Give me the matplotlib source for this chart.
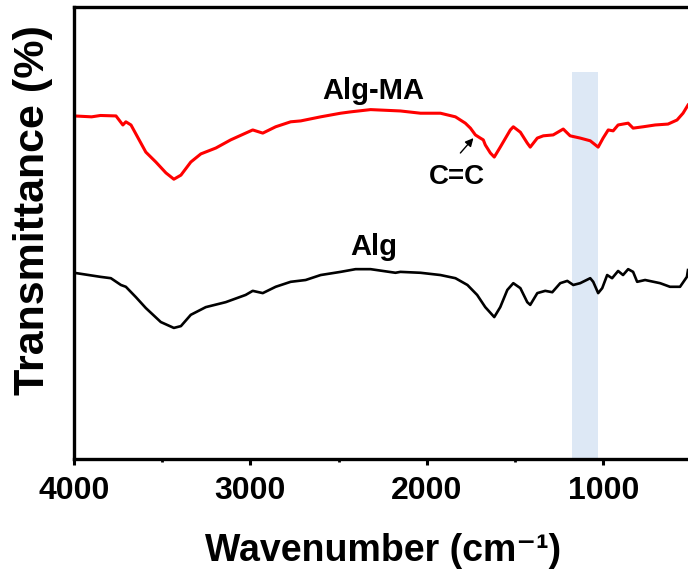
import matplotlib
matplotlib.use("Agg")
import matplotlib.pyplot as plt

plt.rcParams['font.family'] = ['Liberation Sans', 'DejaVu Sans']

# Alg-MA spectrum (wavenumber, transmittance in arbitrary offset units)
alg_ma_wn = [4000, 3900, 3850, 3762, 3723, 3706, 3677, 3621, 3593, 3536, 3479, 3434,
             3394, 3338, 3281, 3196, 3112, 3027, 2987, 2930, 2857, 2772, 2715, 2602,
             2489, 2432, 2319, 2150, 2036, 1923, 1838, 1782, 1753, 1725, 1697, 1680,
             1669, 1640, 1618, 1584, 1527, 1510, 1470, 1431, 1414, 1374, 1340, 1284,
             1227, 1188, 1131, 1074, 1029, 1001, 972, 944, 916, 888, 859, 831, 774,
             706, 633, 582, 548, 520]
alg_ma_t = [75.9, 75.7, 76.0, 75.9, 73.9, 74.6, 73.9, 69.9, 67.9, 65.7, 63.3, 61.9,
            62.8, 65.7, 67.5, 68.8, 70.6, 72.1, 72.8, 72.1, 73.5, 74.6, 74.8, 75.7,
            76.5, 76.8, 77.3, 77.0, 76.5, 76.5, 75.7, 74.3, 73.2, 71.7, 71.0, 70.6,
            69.5, 67.7, 66.8, 69.0, 72.8, 73.5, 72.3, 69.9, 69.0, 71.0, 71.5, 71.7,
            73.0, 71.5, 71.0, 70.4, 69.0, 71.0, 72.8, 72.6, 73.9, 74.1, 74.3, 73.2,
            73.5, 73.9, 74.1, 75.0, 76.5, 78.3]

# Alg spectrum
alg_wn = [4000, 3850, 3791, 3734, 3706, 3649, 3593, 3508, 3434, 3394, 3338, 3253,
          3140, 3027, 2987, 2930, 2857, 2772, 2687, 2602, 2489, 2404, 2319, 2178,
          2150, 2036, 1923, 1838, 1770, 1715, 1669, 1618, 1584, 1544, 1510, 1470,
          1431, 1414, 1374, 1329, 1289, 1244, 1204, 1170, 1131, 1074, 1057, 1029,
          1006, 978, 950, 916, 888, 859, 831, 808, 763, 678, 622, 565, 526, 520]
alg_t = [41.2, 40.3, 40.0, 38.5, 38.1, 35.8, 33.4, 30.3, 29.0, 29.4, 31.9, 33.6,
         34.7, 36.3, 37.2, 36.7, 38.1, 39.2, 39.6, 40.7, 41.4, 42.0, 42.0, 41.2,
         41.4, 41.2, 40.7, 40.0, 38.5, 36.3, 33.6, 31.4, 33.6, 37.4, 38.9, 37.8,
         34.7, 34.1, 36.7, 37.2, 36.9, 38.9, 39.4, 38.5, 38.9, 40.0, 39.2, 36.7,
         37.8, 40.7, 40.0, 41.6, 40.7, 42.0, 41.4, 39.2, 39.6, 38.9, 38.1, 38.1,
         40.3, 41.8]

band_range = (1030, 1175)
band_top = 85.6
xticks = [4000, 3000, 2000, 1000]
minor_xticks = [3500, 2500, 1500]

fig = plt.figure(figsize=(6.88, 5.79), dpi=100)
ax = fig.add_axes([74/688, 120/579, (691.5-74)/688, 452/579])
ax.set_xlim(4000, 500)
ax.set_ylim(0, 100)

ax.axvspan(band_range[0], band_range[1], ymin=0, ymax=band_top/100,
           color='#dde8f5', zorder=0, lw=0)
ax.plot(alg_ma_wn, alg_ma_t, color='#ff0000', lw=2.2, zorder=2,
        solid_joinstyle='round')
ax.plot(alg_wn, alg_t, color='black', lw=1.9, zorder=2, solid_joinstyle='round')

ax.text(2302, 78.3, 'Alg-MA', fontsize=21, fontweight='bold', ha='center', va='bottom')
ax.text(2302, 43.8, 'Alg', fontsize=21, fontweight='bold', ha='center', va='bottom')
ax.text(1827, 65.3, 'C=C', fontsize=20, fontweight='bold', ha='center', va='top')
ax.annotate('', xy=(1736, 71.0), xytext=(1810, 67.7),
            arrowprops=dict(arrowstyle='-|>', color='black', lw=1.0,
                            mutation_scale=12, shrinkA=0, shrinkB=0))

ax.set_xticks(xticks)
ax.set_xticks(minor_xticks, minor=True)
ax.set_xticklabels([str(v) for v in xticks])
ax.set_yticks([])
ax.tick_params(axis='x', which='major', direction='out', length=4.5, width=2.2,
               labelsize=23, pad=8)
ax.tick_params(axis='x', which='minor', direction='out', length=2.5, width=2.0)
for lab in ax.get_xticklabels():
    lab.set_fontweight('bold')
for s in ['left', 'bottom', 'top', 'right']:
    ax.spines[s].set_linewidth(2.4)

ax.set_ylabel('Transmittance (%)', fontsize=31, fontweight='bold')
ax.yaxis.set_label_coords(-0.034, 0.55)
ax.set_xlabel('Wavenumber (cm\u207b\u00b9)', fontsize=27, fontweight='bold')
ax.xaxis.set_label_coords(0.5, -0.163)

fig.savefig('out.png', dpi=100)
